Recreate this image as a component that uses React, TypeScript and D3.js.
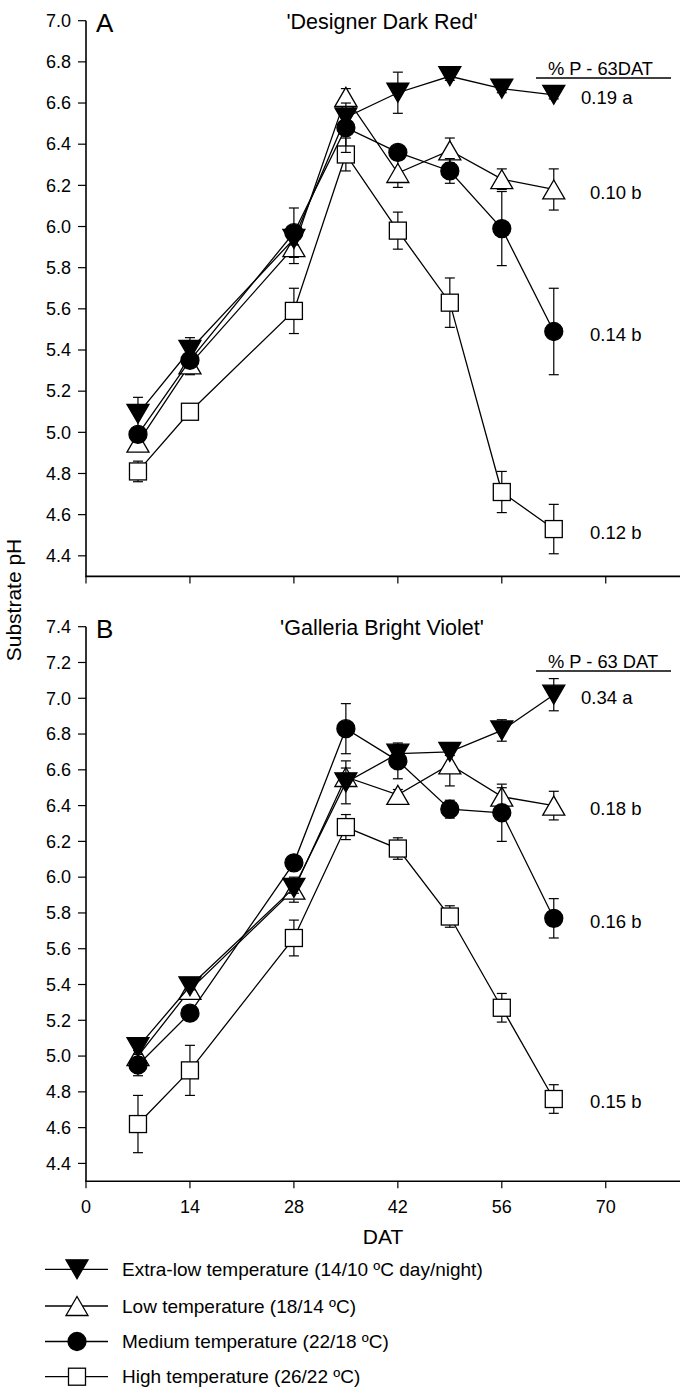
import React from 'react';
import * as d3 from 'd3';

const days = [7, 14, 28, 35, 42, 49, 56, 63];
const xTicks = [0, 14, 28, 42, 56, 70];
const yTicksA = [4.4, 4.6, 4.8, 5.0, 5.2, 5.4, 5.6, 5.8, 6.0, 6.2, 6.4, 6.6, 6.8, 7.0];
const yTicksB = [4.4, 4.6, 4.8, 5.0, 5.2, 5.4, 5.6, 5.8, 6.0, 6.2, 6.4, 6.6, 6.8, 7.0, 7.2, 7.4];

const seriesNames = [
  'Extra-low temperature (14/10 ºC day/night)',
  'Low temperature (18/14 ºC)',
  'Medium temperature (22/18 ºC)',
  'High temperature (26/22 ºC)',
];

// Panel A – 'Designer Dark Red'
const aExtraLow = [5.09, 5.40, 5.94, 6.53, 6.65, 6.73, 6.67, 6.64];
const aExtraLowErr = [0.08, 0.06, 0.03, 0.03, 0.10, 0.02, 0.02, 0.02];
const aLow = [4.95, 5.33, 5.90, 6.63, 6.26, 6.37, 6.23, 6.18];
const aLowErr = [0.03, 0.05, 0.08, 0.04, 0.07, 0.06, 0.05, 0.10];
const aMedium = [4.99, 5.35, 5.97, 6.48, 6.36, 6.27, 5.99, 5.49];
const aMediumErr = [0.03, 0.03, 0.12, 0.12, 0.03, 0.06, 0.18, 0.21];
const aHigh = [4.81, 5.10, 5.59, 6.35, 5.98, 5.63, 4.71, 4.53];
const aHighErr = [0.05, 0.02, 0.11, 0.08, 0.09, 0.12, 0.10, 0.12];
const aLabels = ['0.19 a', '0.10 b', '0.14 b', '0.12 b'];

// Panel B – 'Galleria Bright Violet'
const bExtraLow = [5.05, 5.39, 5.94, 6.53, 6.69, 6.70, 6.82, 7.02];
const bExtraLowErr = [0.04, 0.02, 0.03, 0.12, 0.05, 0.02, 0.06, 0.09];
const bLow = [5.00, 5.37, 5.93, 6.56, 6.46, 6.63, 6.45, 6.40];
const bLowErr = [0.03, 0.03, 0.07, 0.05, 0.03, 0.12, 0.05, 0.08];
const bMedium = [4.95, 5.24, 6.08, 6.83, 6.65, 6.38, 6.36, 5.77];
const bMediumErr = [0.06, 0.03, 0.03, 0.14, 0.10, 0.05, 0.16, 0.11];
const bHigh = [4.62, 4.92, 5.66, 6.28, 6.16, 5.78, 5.27, 4.76];
const bHighErr = [0.16, 0.14, 0.10, 0.07, 0.06, 0.06, 0.08, 0.08];
const bLabels = ['0.34 a', '0.18 b', '0.16 b', '0.15 b'];

const FONT = "'Liberation Sans', Arial, Helvetica, sans-serif";
const markerKinds = ['down', 'up', 'circle', 'square'];

function Marker({ kind, x, y }: { kind: string; x: number; y: number }) {
  const sw = 1.3;
  if (kind === 'down') {
    return <path d={`M${x - 11},${y - 9.5}L${x + 11},${y - 9.5}L${x},${y + 9.5}Z`} fill="#000" stroke="#000" strokeWidth={sw} />;
  }
  if (kind === 'up') {
    return <path d={`M${x - 11},${y + 9.5}L${x + 11},${y + 9.5}L${x},${y - 9.5}Z`} fill="#fff" stroke="#000" strokeWidth={sw} />;
  }
  if (kind === 'circle') {
    return <circle cx={x} cy={y} r={9} fill="#000" stroke="#000" strokeWidth={sw} />;
  }
  return <rect x={x - 8.5} y={y - 8.5} width={17} height={17} fill="#fff" stroke="#000" strokeWidth={sw} />;
}

type Panel = {
  top: number; bottom: number; domain: [number, number]; ticks: number[];
  letter: string; title: string; header: string; titleY: number; headerY: number;
  values: number[][]; errs: number[][]; labels: string[]; showXLabels: boolean;
};

const x = d3.scaleLinear().domain([0, 80]).range([86, 680]);

function PanelView({ p }: { p: Panel }) {
  const y = d3.scaleLinear().domain(p.domain).range([p.bottom, p.top]);
  const line = d3.line<number>().x((_, i) => x(days[i])).y((v) => y(v));
  const order = [1, 3, 2, 0];
  const y0 = y(p.domain[0]);
  return (
    <g>
      <line x1={86} x2={86} y1={y(p.domain[1])} y2={y0} stroke="#000" strokeWidth={1.6} />
      <line x1={85.2} x2={680} y1={y0} y2={y0} stroke="#000" strokeWidth={1.6} />
      {p.ticks.map((t) => (
        <g key={t}>
          <line x1={78} x2={86} y1={y(t)} y2={y(t)} stroke="#000" strokeWidth={1.2} />
          <text x={71} y={y(t)} dy="0.35em" textAnchor="end" fontSize={18} fontFamily={FONT}>{t.toFixed(1)}</text>
        </g>
      ))}
      {xTicks.map((t) => (
        <g key={t}>
          <line x1={x(t)} x2={x(t)} y1={y0} y2={y0 + 7} stroke="#000" strokeWidth={1.2} />
          {p.showXLabels && (
            <text x={x(t)} y={y0 + 25} dy="0.35em" textAnchor="middle" fontSize={18} fontFamily={FONT}>{t}</text>
          )}
        </g>
      ))}
      <text x={96} y={y(p.domain[1]) + 2.5} dy="0.35em" fontSize={26} fontFamily={FONT}>{p.letter}</text>
      <text x={382} y={p.titleY} textAnchor="middle" fontSize={21.5} fontFamily={FONT}>{p.title}</text>
      <text x={548} y={p.headerY} fontSize={18.3} fontFamily={FONT}>{p.header}</text>
      <line x1={536} x2={671} y1={p.headerY + 3} y2={p.headerY + 3} stroke="#000" strokeWidth={1.6} />
      {order.map((si) => (
        <g key={si}>
          {p.values[si].map((v, i) => {
            const e = p.errs[si][i];
            const xx = x(days[i]);
            return (
              <g key={i} stroke="#000" strokeWidth={1.2}>
                <line x1={xx} x2={xx} y1={y(v - e)} y2={y(v + e)} />
                <line x1={xx - 5} x2={xx + 5} y1={y(v - e)} y2={y(v - e)} />
                <line x1={xx - 5} x2={xx + 5} y1={y(v + e)} y2={y(v + e)} />
              </g>
            );
          })}
          <path d={line(p.values[si]) || ''} fill="none" stroke="#000" strokeWidth={1.3} />
          {p.values[si].map((v, i) => (
            <Marker key={i} kind={markerKinds[si]} x={x(days[i])} y={y(v)} />
          ))}
        </g>
      ))}
      {p.labels.map((lab, si) => {
        const last = p.values[si][p.values[si].length - 1];
        return (
          <text key={lab} x={lab.endsWith('a') ? 581 : 590} y={y(last) + 3} dy="0.35em" fontSize={18.5} fontFamily={FONT}>{lab}</text>
        );
      })}
    </g>
  );
}

const panelA: Panel = {
  top: 20.7, bottom: 576.4, domain: [4.3, 7.0], ticks: yTicksA,
  letter: 'A', title: "'Designer Dark Red'", header: '% P - 63DAT', titleY: 28.5, headerY: 75,
  values: [aExtraLow, aLow, aMedium, aHigh], errs: [aExtraLowErr, aLowErr, aMediumErr, aHighErr],
  labels: aLabels, showXLabels: false,
};
const panelB: Panel = {
  top: 626.7, bottom: 1181.3, domain: [4.3, 7.4], ticks: yTicksB,
  letter: 'B', title: "'Galleria Bright Violet'", header: '% P - 63 DAT', titleY: 635, headerY: 668,
  values: [bExtraLow, bLow, bMedium, bHigh], errs: [bExtraLowErr, bLowErr, bMediumErr, bHighErr],
  labels: bLabels, showXLabels: true,
};

const legendY = [1269.3, 1306, 1341.5, 1376.7];

export default function App() {
  return (
    <svg width={682} height={1387} style={{ position: 'absolute', left: 0, top: 0, background: '#fff' }}>
      <rect width={682} height={1387} fill="#fff" />
      <PanelView p={panelA} />
      <PanelView p={panelB} />
      <text transform="translate(14,600) rotate(-90)" textAnchor="middle" dy="0.35em" fontSize={21} fontFamily={FONT}>Substrate pH</text>
      <text x={383} y={1237} dy="0.35em" textAnchor="middle" fontSize={21} fontFamily={FONT}>DAT</text>
      {seriesNames.map((name, i) => (
        <g key={name}>
          <line x1={45} x2={108} y1={legendY[i]} y2={legendY[i]} stroke="#000" strokeWidth={1.3} />
          <Marker kind={markerKinds[i]} x={77} y={legendY[i]} />
          <text x={122} y={legendY[i]} dy="0.35em" fontSize={19} fontFamily={FONT}>{name}</text>
        </g>
      ))}
    </svg>
  );
}
